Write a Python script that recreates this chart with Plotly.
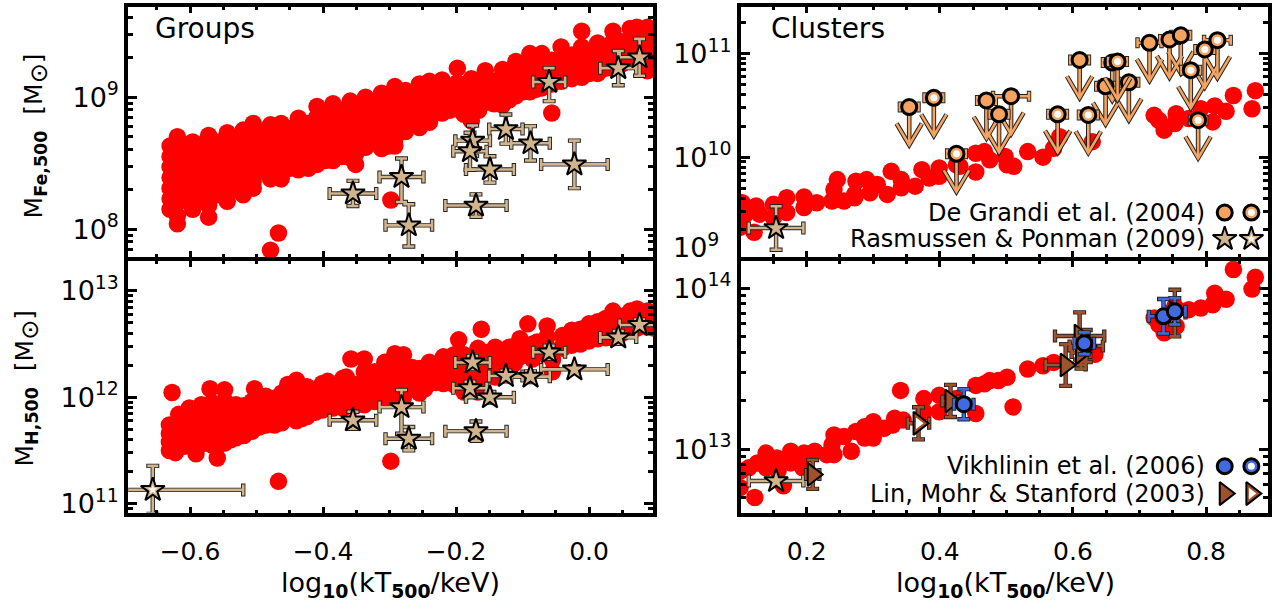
import plotly.graph_objects as go

# ---------- simulated systems, log10(kT500/keV) and log10(mass) ----------
GROUP_FE_KT = [-.630,-.619,-.596,-.572,-.544,-.520,-.505,-.479,-.463,-.437,-.422,-.409,-.385,-.359,-.351,-.336,-.312,-.292,-.276,-.255,-.240,-.221,-.198,-.177,-.156,-.130,-.110,-.089,-.071,-.042,-.011,.013,.036,.062,.072,.088,-.056,-.298,-.467,-.479,
 -.608,-.584,-.558,-.532,-.512,-.492,-.471,-.450,-.430,-.397,-.372,-.344,-.324,-.302,-.284,-.266,-.248,-.230,-.210,-.188,-.166,-.143,-.120,-.100,-.080,-.056,-.026,.001,.025,.049,.098]
GROUP_FE_LOG = [
 [8.63,8.55,8.47,8.39,8.31,8.23,8.15],[8.70,8.60,8.50,8.40,8.30,8.20,8.10,8.04],[8.66,8.57,8.48,8.39,8.30,8.21,8.15],
 [8.71,8.62,8.53,8.44,8.35,8.26,8.18,8.09],[8.73,8.64,8.55,8.46,8.37,8.28,8.21],[8.75,8.66,8.57,8.48,8.39,8.30,8.26],
 [8.80,8.71,8.62,8.53,8.44,8.36,8.31],[8.79,8.71,8.63,8.55,8.47,8.40,8.38],[8.80,8.72,8.64,8.56,8.48,8.40,8.38],
 [8.84,8.76,8.68,8.60,8.52,8.45],[8.80,8.72,8.64,8.56,8.49,8.46],[8.93,8.85,8.77,8.69,8.61,8.53,8.49],
 [8.95,8.87,8.79,8.71,8.63,8.55,8.52],[8.97,8.89,8.81,8.73,8.65,8.57,8.54],[8.89,8.81,8.73,8.65,8.57,8.49],
 [9.0,8.92,8.84,8.76,8.68,8.62],[9.03,8.95,8.87,8.79,8.71,8.63,8.61],[9.08,9.0,8.92,8.84,8.76,8.68,8.63],
 [9.05,8.97,8.89,8.81,8.74],[9.10,9.02,8.94,8.86,8.78,8.77],[9.12,9.04,8.96,8.88,8.81],[9.13,9.05,8.97,8.90,8.88],
 [9.22,9.11,9.03,8.95,8.91],[9.14,9.06,8.98,8.90,8.82],[9.20,9.12,9.04,8.98,8.96],[9.21,9.13,9.05,8.94],
 [9.27,9.19,9.11,9.03,9.01],[9.33,9.25,9.17,9.08,9.04],[9.33,9.25,9.17,9.07],[9.38,9.30,9.22,9.12],
 [9.50,9.38,9.30,9.22,9.15],[9.41,9.33,9.25,9.18],[9.50,9.42,9.34,9.26,9.22],[9.52,9.44,9.36,9.27],
 [9.53,9.45,9.37,9.29],[9.53,9.45,9.37,9.28,9.2],[8.88],[8.22],[7.97],[7.84],
 [8.62,8.52,8.42,8.32,8.22],[8.64,8.54,8.44,8.34,8.24],[8.66,8.56,8.46,8.36,8.26],[8.68,8.58,8.48,8.38,8.3],[8.72,8.62,8.52,8.42,8.34],
 [8.74,8.64,8.54,8.44],[8.74,8.64,8.54,8.44],[8.76,8.66,8.56,8.46],[8.76,8.66,8.56,8.48],[8.88,8.78,8.68,8.58,8.52],[8.90,8.80,8.70,8.60,8.55],
 [8.92,8.82,8.72,8.62],[8.96,8.86,8.76,8.66],[9.0,8.90,8.80,8.70,8.63],[8.98,8.88,8.78],[9.02,8.92,8.82],[9.05,8.95,8.85],[9.06,8.96,8.89],
 [9.06,8.96,8.90],[9.06,8.96,8.87],[9.10,9.0,8.90],[9.12,9.02,8.95],[9.16,9.06,8.98],[9.22,9.12,9.04],[9.24,9.14,9.06],[9.28,9.18,9.10],
 [9.32,9.22,9.14],[9.34,9.24,9.18],[9.38,9.28,9.22],[9.42,9.32,9.25],[9.5,9.4,9.3,9.22]]

GROUP_H_KT = [-.631,-.627,-.622,-.617,-.601,-.591,-.583,-.567,-.559,-.570,-.548,-.531,-.507,-.503,-.486,-.473,-.453,-.440,-.424,-.401,-.393,-.370,-.365,-.358,-.338,-.307,-.292,-.279,-.255,-.240,-.219,-.203,-.196,-.188,-.167,-.162,-.141,-.120,-.104,-.092,-.078,-.063,-.055,-.026,.0,.013,.036,.062,.072,.088,-.298,-.467,
 -.609,-.575,-.555,-.539,-.519,-.496,-.462,-.432,-.412,-.385,-.352,-.322,-.266,-.247,-.230,-.210,-.178,-.155,-.130,-.112,-.085,-.040,-.013,.025,.049,.098]
GROUP_H_LOG = [
 [11.74,11.66,11.58,11.50],[12.045],[11.75,11.66,11.57,11.48],[11.84,11.74,11.64,11.54],[11.90,11.80,11.70,11.60,11.56],
 [11.85,11.75,11.65,11.55,11.47],[11.93,11.83,11.73,11.63,11.56],[11.95,11.85,11.75,11.65,11.55],[11.54,11.43],[12.08],
 [12.07,11.97,11.87,11.77,11.67,11.57],[11.93,11.83,11.73,11.62],[11.96,11.86,11.76,11.68],[12.08],[12.01,11.91,11.81,11.74],
 [11.99,11.89,11.79,11.74],[12.12,12.02,11.92,11.81],[12.16,12.06,11.96,11.86,11.78],[12.10,12.0,11.90,11.82],[12.13,12.03,11.93,11.88],
 [12.15],[12.18,12.08,11.98,11.90],[12.19],[12.36],[12.36,12.24,12.14,12.04,11.93],[12.33,12.23,12.13,12.03,11.99],
 [12.41,12.31,12.21,12.11,12.0],[12.40,12.30,12.20,12.10,12.0],[12.27,12.17,12.07,12.04],[12.33,12.23,12.13],[12.38,12.28,12.18,12.13],
 [12.40,12.30,12.20,12.12],[12.54],[12.40,12.30,12.20,12.05],[12.46,12.36,12.26,12.16,12.05],[12.64],[12.47,12.37,12.27,12.19],
 [12.47,12.37,12.33],[12.55,12.45,12.38],[12.69],[12.52,12.42],[12.67,12.57,12.47,12.41],[12.35,12.24],[12.63,12.53,12.49],
 [12.69,12.59,12.53],[12.71,12.61,12.55],[12.81,12.71,12.61,12.56],[12.81,12.71,12.63],[12.83,12.73,12.65],[12.81,12.71,12.66],[11.40],[11.21],
 [11.82,11.72,11.62,11.54],[11.88,11.78,11.68,11.6],[11.90,11.8,11.7,11.6],[11.9,11.8,11.7,11.6],[11.92,11.82,11.72,11.64],[11.92,11.82,11.72],
 [12.04,11.94,11.84,11.76],[12.08,11.98,11.88,11.8],[12.06,11.96,11.86],[12.1,12.0,11.9],[12.12,12.02,11.92],[12.24,12.14,12.04,11.96],
 [12.28,12.18,12.08],[12.28,12.18,12.08],[12.3,12.2,12.14],[12.32,12.22,12.14],[12.38,12.28,12.18,12.08],[12.42,12.32,12.22],[12.44,12.34,12.26],
 [12.48,12.38,12.32],[12.50,12.40,12.36],[12.58,12.48,12.46],[12.64,12.54,12.5],[12.74,12.64,12.56],[12.76,12.66,12.6],[12.8,12.7,12.65]]

CLUSTER_FE_KT = [.103,.108,.100,.124,.121,.129,.150,.150,.170,.170,.196,.196,.215,.241,.246,.238,.256,.272,.274,.272,.290,.295,.306,.321,.327,.342,.342,.363,.373,.384,.399,.399,.425,.430,.454,.454,.467,.475,.498,.501,.511,.532,.555,.571,.580,.629,.722,.729,.737,.755,.753,.774,.792,.810,.813,.830,.841,.874,.869]
CLUSTER_FE_LOG = [9.56,9.449,9.322,9.529,9.274,9.449,9.544,9.417,9.608,9.465,9.615,9.513,9.56,9.688,9.783,9.576,9.576,9.64,9.767,9.608,9.783,9.656,9.736,9.64,9.863,9.783,9.704,9.72,9.879,9.799,9.895,9.815,9.927,9.911,9.857,10.038,10.054,9.974,10.006,9.927,9.911,10.054,10.0,10.086,10.197,10.15,10.404,10.357,10.261,10.42,10.325,10.373,10.468,10.341,10.494,10.443,10.596,10.643,10.468]

CLUSTER_H_KT = [.100,.100,.113,.122,.126,.139,.139,.155,.157,.165,.176,.176,.196,.194,.212,.230,.241,.241,.238,.256,.267,.274,.287,.287,.300,.300,.316,.329,.332,.345,.341,.376,.376,.399,.399,.425,.454,.454,.467,.475,.488,.501,.510,.532,.555,.571,.633,.722,.729,.737,.755,.753,.774,.792,.810,.813,.830,.841,.874,.869]
CLUSTER_H_LOG = [12.863,12.760,12.883,12.699,12.914,12.975,12.883,12.945,12.863,12.771,12.986,12.914,12.975,12.883,12.986,12.965,12.965,13.088,13.027,13.078,12.986,13.109,13.139,13.068,13.170,13.068,13.129,13.150,13.191,13.180,13.365,13.314,13.232,13.334,13.232,13.314,13.221,13.396,13.406,13.426,13.426,13.447,13.262,13.498,13.518,13.539,13.590,13.816,13.775,13.723,13.764,13.887,13.867,13.877,13.898,13.969,13.932,14.117,14.068,13.996]

# ---------- Rasmussen & Ponman (2009) ----------
RP_KT  = [-.355,-.282,-.271,-.170,-.175,-.179,-.149,-.125,-.088,-.022,-.060,.044,.076]
RP_XE  = [.035,.033,.035,.046,.026,.025,.036,.025,.029,.050,.024,.027,.030]
RP_FE  = [8.27,8.395,8.028,8.178,8.67,8.59,8.452,8.758,8.65,8.49,9.115,9.22,9.302]
RP_FE_UP = [.095,.14,.16,.085,.115,.14,.10,.11,.13,.18,.105,.13,.14]
RP_FE_DN = [.095,.19,.16,.085,.115,.14,.10,.11,.13,.18,.145,.13,.14]
RP_H   = [11.784,11.908,11.611,11.682,12.327,12.085,12.0,12.2,12.194,12.262,12.423,12.563,12.68]
RP_H_UP = [.08,.16,.11,.09,.06,.06,.05,.05,.05,.03,.06,.06,.05]
RP_H_DN = [.08,.25,.11,.09,.06,.06,.05,.05,.05,.03,.06,.06,.05]
RP_OPEN_KT, RP_OPEN_XE, RP_OPEN_H, RP_OPEN_HE = [-.656],[.136],[11.13],[.226]
RP_CL_KT, RP_CL_XE, RP_CL_FE, RP_CL_FEE, RP_CL_H = [.154],[.041],[9.315],[.21],[12.801]

# ---------- De Grandi et al. (2004) upper limits ----------
DG_KT  = [.354,.470,.507,.489,.610,.649,.659,.684,.715,.745,.762]
DG_XE  = [.014,.014,.027,.014,.014,.014,.014,.014,.018,.014,.014]
DG_FE  = [10.484,10.548,10.589,10.414,10.939,10.685,10.914,10.723,11.105,11.137,11.178]
DG_O_KT = [.391,.425,.577,.623,.667,.777,.788,.798,.817]
DG_O_XE = [.014,.014,.014,.014,.014,.014,.012,.014,.020]
DG_O_FE = [10.573,10.032,10.414,10.408,10.924,10.841,10.357,11.041,11.131]
ARROW_DEX, HEAD_DX, HEAD_DY = .366, .019, .207

# ---------- Vikhlinin et al. (2006) ----------
VK_KT = [.436,.617,.736,.753]
VK_XE = [.0146,.0146,.022,.016]
VK_H  = [13.279,13.658,13.826,13.857]
VK_HE = [.094,.068,.107,.082]

# ---------- Lin, Mohr & Stanford (2003) ----------
LM_KT = [.209,.416,.589,.610,.620,.612,.753]
LM_XE = [.010,.012,.030,.037,.025,.014,.016]
LM_H  = [12.842,13.299,13.523,13.703,13.641,13.600,13.846]
LM_HE = [.09,.10,.13,.147,.10,.10,.145]
LM_O_KT, LM_O_XE, LM_O_H, LM_O_HE = [.368],[.016],[13.16],[.10]

# ---------- legend swatches and labels ----------
SW_X = [.828,.868]
SW_FE_Y = [9.465,9.21]
SW_H_Y = [12.893,12.723]
LEG_TOP = ["De Grandi et al. (2004)","Rasmussen &amp; Ponman (2009)"]
LEG_BOT = ["Vikhlinin et al. (2006)","Lin, Mohr &amp; Stanford (2003)"]
LEG_END_X = .802

RED, TAN, ORANGE, BLUE, BROWN, DARK = "#ff0000","#d2b48c","#f4a460","#4169e1","#a0522d","#222222"
FONT = "DejaVu Sans"
W, H = 1276, 610
PX = [(128.3,653),(741,1268)]
PY = [(7,260),(264,518.5)]
STAR, CIRC, TRI = 18, 15, 20

fig = go.Figure()

def flat(xs, ys):
    ox, oy = [], []
    for a, b in zip(xs, ys):
        for v in (b if isinstance(b, list) else [b]):
            ox.append(a); oy.append(10**v)
    return ox, oy

def red(xs, ys, ax):
    ox, oy = flat(xs, ys)
    fig.add_trace(go.Scatter(x=ox, y=oy, mode="markers", xaxis=ax[0], yaxis=ax[1], showlegend=False,
                             marker=dict(color=RED, size=17.5, line=dict(width=0))))

def ebars(x, y, xe, up, dn, color, ax, cap=5.5):
    yy = [10**v for v in y]
    hi = [10**(v+e)-10**v for v, e in zip(y, up)]
    lo = [10**v-10**(v-e) for v, e in zip(y, dn)]
    for col, th, w in ((DARK, 4.4, cap+1), (color, 2.6, cap)):
        fig.add_trace(go.Scatter(x=x, y=yy, mode="markers", xaxis=ax[0], yaxis=ax[1], showlegend=False,
            marker=dict(size=1, opacity=0),
            error_x=dict(type="data", array=xe, color=col, thickness=th, width=w),
            error_y=dict(type="data", array=hi, arrayminus=lo, color=col, thickness=th, width=w)))

def pts(x, y, sym, size, color, ax, inner=None, inner_size=0, lw=2):
    yy = [10**v for v in y]
    fig.add_trace(go.Scatter(x=x, y=yy, mode="markers", xaxis=ax[0], yaxis=ax[1], showlegend=False,
        marker=dict(symbol=sym, size=size, color=color, line=dict(color="black", width=lw))))
    if inner:
        fig.add_trace(go.Scatter(x=x, y=yy, mode="markers", xaxis=ax[0], yaxis=ax[1], showlegend=False,
            marker=dict(symbol=sym, size=inner_size, color=inner, line=dict(width=0))))

def arrows(x, y, ax):
    lx, ly = [], []
    for a, b in zip(x, y):
        tip = b-ARROW_DEX
        lx += [a, a, None, a-HEAD_DX, a, a+HEAD_DX, None]
        ly += [10**b, 10**tip, None, 10**(tip+HEAD_DY), 10**tip, 10**(tip+HEAD_DY), None]
    for col, w in ((DARK, 4.6), (ORANGE, 2.6)):
        fig.add_trace(go.Scatter(x=lx, y=ly, mode="lines", xaxis=ax[0], yaxis=ax[1], showlegend=False,
                                 line=dict(color=col, width=w), connectgaps=False))

A_TL, A_BL, A_TR, A_BR = ("x","y"), ("x2","y2"), ("x3","y3"), ("x4","y4")

# groups, iron
red(GROUP_FE_KT, GROUP_FE_LOG, A_TL)
ebars(RP_KT, RP_FE, RP_XE, RP_FE_UP, RP_FE_DN, TAN, A_TL)
pts(RP_KT, RP_FE, "star", STAR, TAN, A_TL)

# groups, hydrogen
red(GROUP_H_KT, GROUP_H_LOG, A_BL)
ebars(RP_KT, RP_H, RP_XE, RP_H_UP, RP_H_DN, TAN, A_BL)
ebars(RP_OPEN_KT, RP_OPEN_H, RP_OPEN_XE, RP_OPEN_HE, RP_OPEN_HE, TAN, A_BL)
pts(RP_KT, RP_H, "star", STAR, TAN, A_BL)
pts(RP_OPEN_KT, RP_OPEN_H, "star", STAR, TAN, A_BL, "white", 7)

# clusters, iron
red(CLUSTER_FE_KT, CLUSTER_FE_LOG, A_TR)
ebars(RP_CL_KT, RP_CL_FE, RP_CL_XE, RP_CL_FEE, RP_CL_FEE, TAN, A_TR)
pts(RP_CL_KT, RP_CL_FE, "star", STAR, TAN, A_TR)
for kt, fe, xe, inner in ((DG_KT, DG_FE, DG_XE, None), (DG_O_KT, DG_O_FE, DG_O_XE, "white")):
    arrows(kt, fe, A_TR)
    ebars(kt, fe, xe, [0]*len(fe), [0]*len(fe), ORANGE, A_TR, cap=4.5)
    pts(kt, fe, "circle", CIRC, ORANGE, A_TR, inner, 7, lw=3)
for i, (sym, size, color, ins, lw) in enumerate((("circle", CIRC, ORANGE, 7, 3), ("star", STAR, TAN, 7, 2))):
    pts(SW_X[:1], SW_FE_Y[i:i+1], sym, size, color, A_TR, lw=lw)
    pts(SW_X[1:], SW_FE_Y[i:i+1], sym, size, color, A_TR, "white", ins, lw=lw)

# clusters, hydrogen
red(CLUSTER_H_KT, CLUSTER_H_LOG, A_BR)
ebars(RP_CL_KT, RP_CL_H, RP_CL_XE, [0], [0], TAN, A_BR)
pts(RP_CL_KT, RP_CL_H, "star", STAR, TAN, A_BR)
ebars(LM_KT, LM_H, LM_XE, LM_HE, LM_HE, BROWN, A_BR)
ebars(LM_O_KT, LM_O_H, LM_O_XE, LM_O_HE, LM_O_HE, BROWN, A_BR)
pts(LM_KT, LM_H, "triangle-right", TRI, BROWN, A_BR)
pts(LM_O_KT, LM_O_H, "triangle-right", TRI, BROWN, A_BR, "white", 10)
ebars(VK_KT, VK_H, VK_XE, VK_HE, VK_HE, BLUE, A_BR)
pts(VK_KT, VK_H, "circle", CIRC, BLUE, A_BR, lw=3)
for i, (sym, size, color, ins, lw) in enumerate((("circle", CIRC, BLUE, 7, 3), ("triangle-right", TRI, BROWN, 10, 2))):
    pts(SW_X[:1], SW_H_Y[i:i+1], sym, size, color, A_BR, lw=lw)
    pts(SW_X[1:], SW_H_Y[i:i+1], sym, size, color, A_BR, "white", ins, lw=lw)

def minor_vals(lo, hi):
    return [k*10**n for n in range(lo, hi) for k in range(2, 10)]

def xaxis(col, row, rng, major, minor, labels, anchor):
    return dict(domain=[PX[col][0]/W, PX[col][1]/W], range=rng, anchor=anchor,
             showline=True, linewidth=4, linecolor="black", mirror="allticks", showgrid=False, zeroline=False,
             ticks="inside", ticklen=6, tickwidth=3, tickcolor="black",
             tickmode="array", tickvals=major, ticktext=labels,
             showticklabels=row == 1, tickfont=dict(family=FONT, size=25, color="black"), ticklabelstandoff=13,
             minor=dict(ticks="inside", ticklen=3, tickwidth=2.5, tickcolor="black", tickmode="array", tickvals=minor, showgrid=False))

def yaxis(col, row, rng, decades, labels, anchor):
    return dict(domain=[1-PY[row][1]/H, 1-PY[row][0]/H], range=rng, type="log", anchor=anchor,
             showline=True, linewidth=4, linecolor="black", mirror="allticks", showgrid=False, zeroline=False,
             ticks="inside", ticklen=9, tickwidth=3, tickcolor="black",
             tickmode="array", tickvals=[10**n for n in decades], ticktext=labels,
             tickfont=dict(family=FONT, size=27, color="black"),
             minor=dict(ticks="inside", ticklen=5, tickwidth=2.5, tickcolor="black", tickmode="array",
                        tickvals=minor_vals(int(rng[0])-1, int(rng[1])+1), showgrid=False))

L_MAJ = [-.6,-.4,-.2,0.0]
L_LAB = ["−0.6","−0.4","−0.2","0.0"]
L_MIN = [-.65,-.55,-.5,-.45,-.35,-.3,-.25,-.15,-.1,-.05,.05]
R_MAJ = [.2,.4,.6,.8]
R_LAB = ["0.2","0.4","0.6","0.8"]
R_MIN = [.15,.25,.3,.35,.45,.5,.55,.65,.7,.75,.85]
L_RANGE = [-.6928,.0962]
R_RANGE = [.1013,.893]

fig.update_layout(
    width=W, height=H, margin=dict(l=0, r=0, t=0, b=0), paper_bgcolor="white", plot_bgcolor="white", showlegend=False,
    xaxis=xaxis(0, 0, L_RANGE, L_MAJ, L_MIN, L_LAB, "y"),
    xaxis2=xaxis(0, 1, L_RANGE, L_MAJ, L_MIN, L_LAB, "y2"),
    xaxis3=xaxis(1, 0, R_RANGE, R_MAJ, R_MIN, R_LAB, "y3"),
    xaxis4=xaxis(1, 1, R_RANGE, R_MAJ, R_MIN, R_LAB, "y4"),
    yaxis=yaxis(0, 0, [7.788,9.684], [8,9], ["10<sup>8</sup>","10<sup>9</sup>"], "x"),
    yaxis2=yaxis(0, 1, [10.917,13.281], [11,12,13], ["10<sup>11</sup>","10<sup>12</sup>","10<sup>13</sup>"], "x2"),
    yaxis3=yaxis(1, 0, [9.035,11.452], [10,11], ["10<sup>10</sup>","10<sup>11</sup>"], "x3"),
    yaxis4=yaxis(1, 1, [12.605,14.17], [13,14], ["10<sup>13</sup>","10<sup>14</sup>"], "x4"),
)

def note(text, px, py, size=22, angle=0, xanchor="center"):
    fig.add_annotation(text=text, xref="paper", yref="paper", x=px/W, y=1-py/H, showarrow=False,
                       font=dict(family=FONT, size=size, color="black"), textangle=angle,
                       xanchor=xanchor, yanchor="middle")

note("Groups", 205, 29, 28)
note("Clusters", 828, 29, 28)
note("10<sup>9</sup>", 721, 248, 27, xanchor="right")
XT = "log<sub><b>10</b></sub>(kT<sub><b>500</b></sub>/keV)"
note(XT, 390, 591, 27)
note(XT, 1005, 591, 27)
SUN = "<sub><span style='font-size:24px'>⊙</span></sub>"
note("M<sub><b>Fe,500</b></sub>  [M" + SUN + "]", 36, 138, 25, -90)
note("M<sub><b>H,500</b></sub>  [M" + SUN + "]", 27, 393, 25, -90)
for t, y, xa, ya in ((LEG_TOP[0], SW_FE_Y[0], "x3", "y3"), (LEG_TOP[1], SW_FE_Y[1], "x3", "y3"),
                     (LEG_BOT[0], SW_H_Y[0], "x4", "y4"), (LEG_BOT[1], SW_H_Y[1], "x4", "y4")):
    fig.add_annotation(text=t, xref=xa, yref=ya, x=LEG_END_X, y=y, showarrow=False, xanchor="right", yanchor="middle",
                       font=dict(family=FONT, size=24, color="black"))

fig.write_html("out.html", config=dict(displayModeBar=False),
               post_script="document.body.style.margin='0';document.body.style.overflow='hidden';")
